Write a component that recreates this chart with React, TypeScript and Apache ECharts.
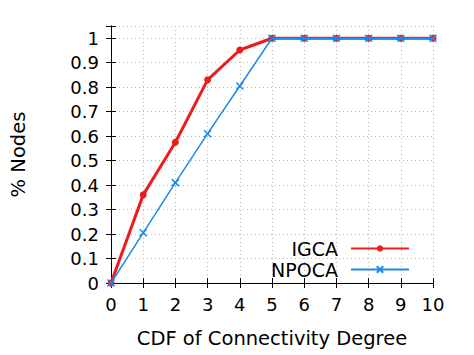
import React, { useEffect, useRef } from "react";
import * as echarts from "echarts";

const degrees = [0, 1, 2, 3, 4, 5, 6, 7, 8, 9, 10];
const igca = [0, 0.36, 0.575, 0.83, 0.952, 1, 1, 1, 1, 1, 1];
const npoca = [0, 0.205, 0.41, 0.61, 0.805, 1, 1, 1, 1, 1, 1];
const seriesNames = ["IGCA", "NPOCA"];

const RED = "#ee1c1c";
const BLUE = "#1f88e8";
const FONT = "DejaVu Sans";

export default function App() {
  const ref = useRef<HTMLDivElement>(null);
  useEffect(() => {
    if (!ref.current) return;
    const chart = echarts.init(ref.current, null, { renderer: "svg" });
    const frame = { show: true, lineStyle: { color: "#000", width: 1 } };
    const grid = { left: 109, right: 41, top: 26, bottom: 72 };
    const splitLine = { show: true, lineStyle: { color: "#b8b8b8", type: [1, 3] as any, width: 1 } };
    chart.setOption({
      animation: false,
      grid,
      legend: {
        orient: "vertical",
        right: 59,
        top: 234,
        align: "right",
        itemWidth: 58,
        itemHeight: 8,
        itemGap: 2,
        textStyle: { fontFamily: FONT, fontSize: 19, color: "#000", padding: [0, 8, 0, 0] },
        data: seriesNames,
      },
      xAxis: [
        {
          type: "value",
          min: 0,
          max: 10,
          interval: 1,
          name: "CDF of Connectivity Degree",
          nameLocation: "middle",
          nameGap: 45,
          nameTextStyle: { fontFamily: FONT, fontSize: 19.5, color: "#000" },
          axisLine: frame,
          axisTick: { show: true, inside: true, length: 5, lineStyle: { color: "#000" } },
          axisLabel: { fontFamily: FONT, fontSize: 18, color: "#000", margin: 12 },
          splitLine,
        },
        {
          type: "value",
          position: "top",
          min: 0,
          max: 10,
          interval: 1,
          axisLine: frame,
          axisTick: { show: true, inside: true, length: 5, lineStyle: { color: "#000" } },
          axisLabel: { show: false },
          splitLine: { show: false },
        },
      ],
      yAxis: [
        {
          type: "value",
          min: 0,
          max: 1.05,
          interval: 0.1,
          name: "% Nodes",
          nameLocation: "middle",
          nameGap: 83,
          nameTextStyle: { fontFamily: FONT, fontSize: 19.5, color: "#000" },
          axisLine: frame,
          axisTick: { show: true, inside: true, length: 5, lineStyle: { color: "#000" } },
          axisLabel: {
            fontFamily: FONT,
            fontSize: 18,
            color: "#000",
            margin: 12,
            formatter: (v: number) => (v > 1.001 ? "" : String(Math.round(v * 10) / 10)),
          },
          splitLine,
        },
        {
          type: "value",
          position: "right",
          min: 0,
          max: 1.05,
          interval: 0.1,
          axisLine: frame,
          axisTick: { show: true, inside: true, length: 5, lineStyle: { color: "#000" } },
          axisLabel: { show: false },
          splitLine: { show: false },
        },
      ],
      series: [
        {
          name: seriesNames[0],
          type: "line",
          data: degrees.map((d, i) => [d, igca[i]]),
          symbol: "circle",
          symbolSize: 7,
          lineStyle: { color: RED, width: 3 },
          itemStyle: { color: RED },
          z: 3,
        },
        {
          name: seriesNames[1],
          type: "line",
          data: degrees.map((d, i) => [d, npoca[i]]),
          symbol: "path://M0,0L10,10M10,0L0,10",
          symbolSize: 7,
          lineStyle: { color: BLUE, width: 1.5 },
          itemStyle: { color: BLUE, borderColor: BLUE, borderWidth: 1.5 },
          z: 4,
        },
      ],
    });
    return () => chart.dispose();
  }, []);
  return (
    <div
      ref={ref}
      style={{ position: "fixed", left: 0, top: 0, width: 474, height: 355, background: "#fff" }}
    />
  );
}
